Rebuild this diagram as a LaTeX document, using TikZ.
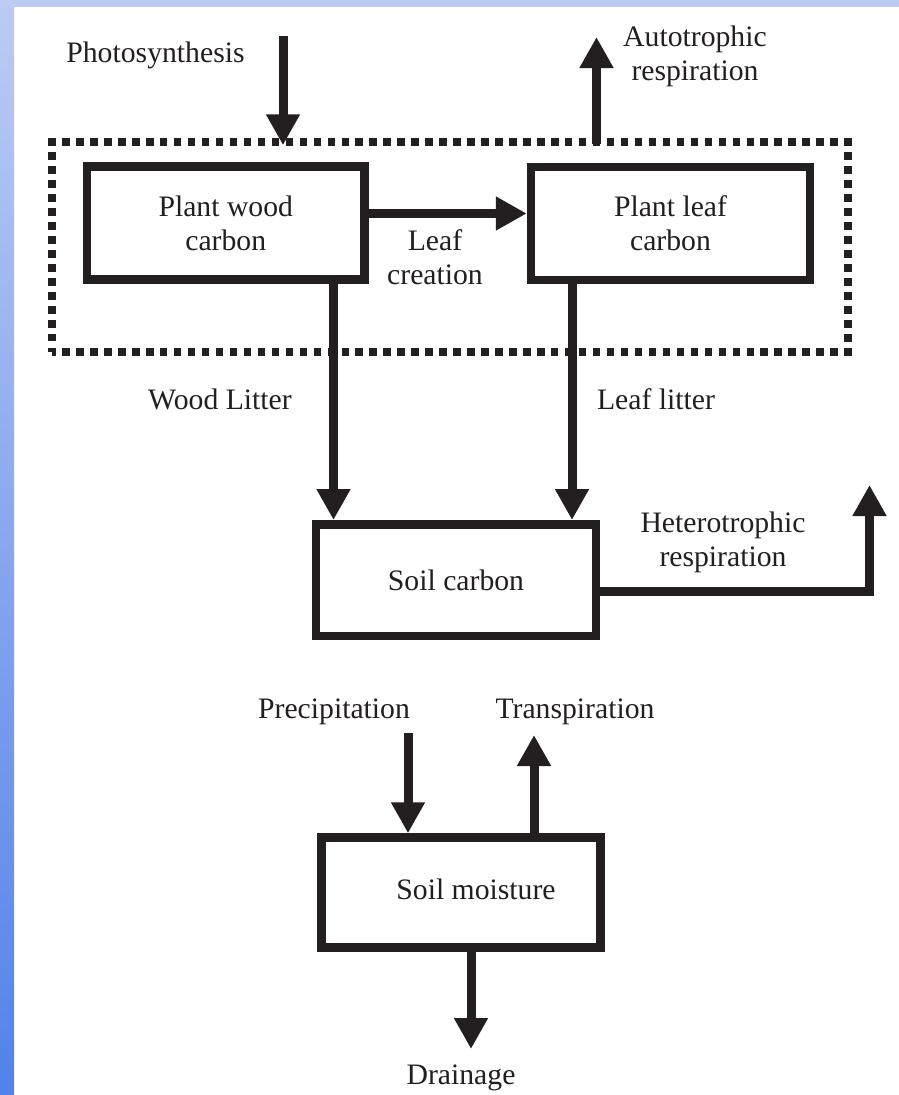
\documentclass[tikz,border=0pt]{standalone}
\usepackage{fontspec}
\setmainfont{Liberation Serif}
\usetikzlibrary{arrows.meta,calc}
\definecolor{ink}{RGB}{35,31,32}
\definecolor{bgtop}{RGB}{188,203,243}
\definecolor{bgbot}{RGB}{82,130,234}
\begin{document}
\begin{tikzpicture}[x=1pt,y=-1pt,
  txt/.style={font=\fontsize{29.7}{34}\selectfont, text=ink, inner sep=0pt, anchor=base, align=center},
  box/.style={draw=ink, line width=8.5pt, rectangle, inner sep=0pt, font=\fontsize{29.7}{34}\selectfont, text=ink, align=center},
  flow/.style={draw=ink, line width=9pt, -{Triangle[width=32pt,length=31pt]}},
  grpbox/.style={draw=ink, line width=8pt, rectangle, dash pattern=on 7.5pt off 6.465pt, dash phase=3.75pt, inner sep=0pt, outer sep=0pt}
]
% background
\fill[white] (0,0) rectangle (899,1095);
\fill[bgtop] (0,0) rectangle (899,7);
\shade[top color=bgtop, bottom color=bgbot] (0,0) rectangle (14,1095);
\useasboundingbox (0,0) rectangle (899,1095);

% dotted group
\node[grpbox, minimum width=796pt, minimum height=209.5pt] (grp) at (450,247) {};

% boxes
\node[box, minimum width=277.5pt, minimum height=113pt] (wood) at (225.75,223) {Plant wood\\carbon};
\node[box, minimum width=279pt, minimum height=113pt] (leaf) at (670.5,223.5) {Plant leaf\\carbon};
\node[box, minimum width=280pt, minimum height=111.5pt] (soilc) at (456,580) {Soil carbon};
\node[box, minimum width=279pt, minimum height=110pt] (soilm) at (461,892.5) {};
\node[txt] (soilmt) at (476,899.5) {Soil moisture};

% labels (base = baseline of last line)
\node[txt] (photo) at (155.5,62.5) {Photosynthesis};
\node[txt] (auto) at (695,80) {Autotrophic\\respiration};
\node[txt] (lc) at (435,284) {Leaf\\creation};
\node[txt] (wl) at (220,409) {Wood Litter};
\node[txt] (ll) at (656,409) {Leaf litter};
\node[txt] (het) at (723,566) {Heterotrophic\\respiration};
\node[txt] (prec) at (334,718) {Precipitation};
\node[txt] (trans) at (575,718) {Transpiration};
\node[txt] (drain) at (461,1084.5) {Drainage};

% free ends
\coordinate (psTop) at (283,36);
\coordinate (atTop) at (596.5,37);
\coordinate (htTop) at (869.5,485);
\coordinate (prTop) at (408,733);
\coordinate (trTop) at (534,735);
\coordinate (drEnd) at (471,1049);
\coordinate (wlx) at ($(wood.south)+(107.75,0)$);
\coordinate (llx) at ($(leaf.south)+(-98.5,0)$);

% connectors
\draw[flow] (psTop) -- ($(psTop |- grp.north)+(0,3)$);
\draw[flow] ($(atTop |- grp.north)+(0,2)$) -- (atTop);
\draw[flow] ($(wood.east)+(0,-9.5)$) -- ($(wood.east -| leaf.west)+(0,-9.5)$);
\draw[flow] (wlx) -- (wlx |- soilc.north);
\draw[flow] (llx) -- (llx |- soilc.north);
\draw[flow] ($(soilc.east)+(0,11.5)$) -| (htTop);
\draw[flow] (prTop) -- (prTop |- soilm.north);
\draw[flow] (trTop |- soilm.north) -- (trTop);
\draw[flow] (drEnd |- soilm.south) -- (drEnd);
\end{tikzpicture}
\end{document}
